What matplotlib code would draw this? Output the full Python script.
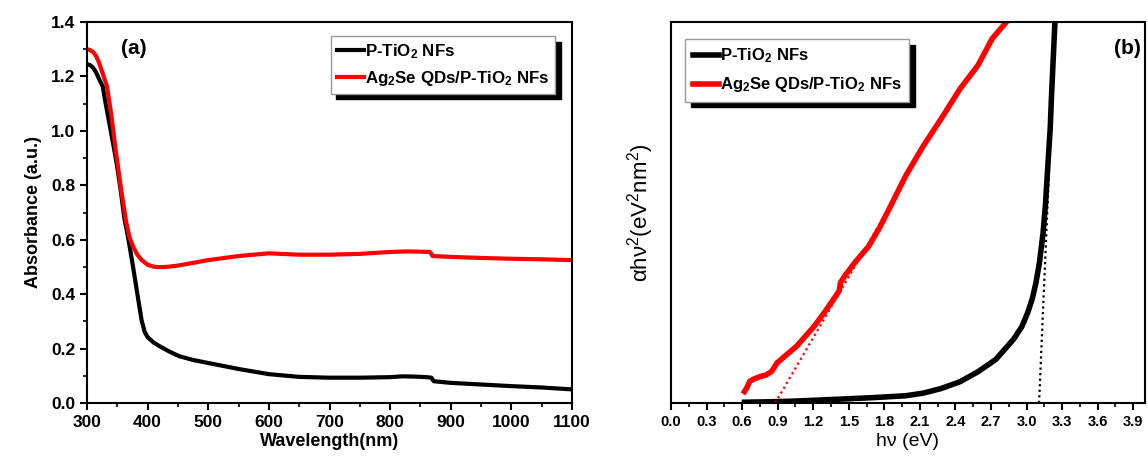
import matplotlib
matplotlib.use("Agg")
import matplotlib.pyplot as plt
from matplotlib.ticker import MultipleLocator, NullLocator, FormatStrFormatter

plt.rcParams['font.family'] = ['Liberation Sans', 'DejaVu Sans']
plt.rcParams['mathtext.fontset'] = 'custom'
plt.rcParams['mathtext.rm'] = 'Liberation Sans'
plt.rcParams['mathtext.it'] = 'Liberation Sans:italic'
plt.rcParams['mathtext.bf'] = 'Liberation Sans:bold'
plt.rcParams['mathtext.default'] = 'regular'

# ---- Panel (a) data: absorbance vs wavelength ----
wl_black = [300, 305, 310, 315, 320, 326, 330, 335, 340, 346, 350, 355, 362, 366, 370, 376, 381, 386, 390, 395, 400,
            410, 421, 435, 452, 475, 500, 550, 600, 650, 700, 750, 800, 820, 840, 860, 868, 872, 900, 950, 1000, 1050,
            1100]
ab_black = [1.245, 1.242, 1.232, 1.215, 1.19, 1.163, 1.11, 1.05, 0.99, 0.918, 0.865, 0.79, 0.673, 0.63, 0.58, 0.50,
            0.43, 0.36, 0.305, 0.262, 0.242, 0.222, 0.207, 0.190, 0.172, 0.158, 0.147, 0.125, 0.106, 0.096, 0.093,
            0.093, 0.095, 0.098, 0.097, 0.095, 0.093, 0.080, 0.074, 0.068, 0.062, 0.057, 0.050]
wl_red = [300, 305, 310, 315, 320, 326, 333, 340, 348, 356, 364, 370, 376, 383, 390, 400, 410, 421, 435, 450, 475, 500,
          550, 600, 650, 700, 750, 800, 830, 866, 870, 900, 950, 1000, 1050, 1100]
ab_red = [1.30, 1.297, 1.29, 1.275, 1.25, 1.21, 1.163, 1.06, 0.918, 0.79, 0.673, 0.61, 0.575, 0.545, 0.526, 0.508,
          0.501, 0.499, 0.501, 0.505, 0.515, 0.525, 0.540, 0.550, 0.545, 0.545, 0.548, 0.555, 0.557, 0.555, 0.540,
          0.537, 0.533, 0.530, 0.528, 0.525]

# ---- Panel (b) data: Tauc plot (arbitrary units, 0-100) ----
ev_black = [0.62, 0.8, 1.0, 1.2, 1.49, 1.7, 1.98, 2.13, 2.28, 2.44, 2.59, 2.74, 2.89, 2.96, 3.01, 3.05, 3.08, 3.11, 3.14,
            3.16, 3.18, 3.20, 3.21, 3.225, 3.24]
tauc_black = [0.2, 0.3, 0.45, 0.7, 1.1, 1.4, 1.9, 2.6, 3.8, 5.6, 8.2, 11.4, 16.7, 20.0, 23.7, 27.5, 31.6, 37.0, 44.7,
              52.0, 62.3, 72.0, 79.8, 90.0, 100.0]
ev_red = [0.62, 0.64, 0.665, 0.70, 0.757, 0.80, 0.85, 0.894, 0.95, 1.06, 1.21, 1.30, 1.40, 1.42, 1.43, 1.47, 1.55, 1.67,
          1.76, 1.855, 1.98, 2.13, 2.28, 2.44, 2.59, 2.71, 2.83]
tauc_red = [3.0, 4.0, 5.7, 6.3, 7.0, 7.3, 8.3, 10.5, 12.0, 14.9, 20.2, 24.0, 28.5, 29.5, 31.6, 33.5, 36.8, 41.2,
            46.0, 51.8, 59.6, 67.5, 74.6, 82.5, 88.6, 95.6, 100.0]
fit_black_x = [3.106, 3.244]
fit_black_y = [0.0, 100.0]
fit_red_x = [0.879, 1.916]
fit_red_y = [0.0, 55.3]

label_black = r'P-TiO$_\mathbf{2}$ NFs'
label_red = r'Ag$_\mathbf{2}$Se QDs/P-TiO$_\mathbf{2}$ NFs'

fig = plt.figure(figsize=(11.48, 4.66), dpi=100)
ax1 = fig.add_axes([87/1148, 63/466, 485/1148, 381/466])
ax2 = fig.add_axes([671/1148, 63/466, 474/1148, 381/466])

ax1.plot(wl_black, ab_black, color='black', lw=3, label=label_black, solid_joinstyle='round')
ax1.plot(wl_red, ab_red, color='#ff0000', lw=3, label=label_red, solid_joinstyle='round')
ax1.set_xlim(300, 1100)
ax1.set_ylim(0, 1.4)
ax1.xaxis.set_major_locator(MultipleLocator(100))
ax1.xaxis.set_minor_locator(MultipleLocator(50))
ax1.yaxis.set_major_locator(MultipleLocator(0.2))
ax1.yaxis.set_minor_locator(MultipleLocator(0.1))
ax1.set_xlabel('Wavelength(nm)', fontsize=13, fontweight='bold', labelpad=2)
ax1.set_ylabel('Absorbance (a.u.)', fontsize=13, fontweight='bold', labelpad=6)
ax1.text(0.07, 0.915, '(a)', transform=ax1.transAxes, fontsize=15, fontweight='bold')
ax1.tick_params(which='major', direction='out', length=5, width=1.5, labelsize=12.5, top=False, right=False)
ax1.tick_params(which='minor', direction='out', length=3, width=1.2, top=False, right=False)
for lab in ax1.get_xticklabels() + ax1.get_yticklabels():
    lab.set_fontweight('bold')
leg1 = ax1.legend(loc='upper right', bbox_to_anchor=(0.965, 0.962), borderaxespad=0, frameon=True, fancybox=False,
                  shadow={'color': 'black', 'alpha': 1, 'ox': 4, 'oy': -4}, handlelength=1.6, handletextpad=0.05,
                  borderpad=0.35, labelspacing=0.45, prop={'weight': 'bold', 'size': 12.2})
leg1.get_frame().set_edgecolor('#999999')
leg1.get_frame().set_linewidth(1.0)

ax2.plot(ev_black, tauc_black, color='black', lw=4, label=label_black, solid_joinstyle='round')
ax2.plot(ev_red, tauc_red, color='#ff0000', lw=4, label=label_red, solid_joinstyle='round')
ax2.plot(fit_black_x, fit_black_y, color='black', lw=1.6, ls=(0, (1, 1.5)))
ax2.plot(fit_red_x, fit_red_y, color='#ff0000', lw=1.6, ls=(0, (1, 1.5)))
ax2.set_xlim(0, 4.0)
ax2.set_ylim(0, 100)
ax2.xaxis.set_major_locator(MultipleLocator(0.3))
ax2.xaxis.set_minor_locator(MultipleLocator(0.15))
ax2.yaxis.set_major_locator(NullLocator())
ax2.yaxis.set_minor_locator(NullLocator())
ax2.xaxis.set_major_formatter(FormatStrFormatter('%.1f'))
ax2.tick_params(which='major', direction='out', length=5, width=1.5, labelsize=10.5, top=False, right=False)
ax2.tick_params(which='minor', direction='out', length=3, width=1.2, top=False, right=False)
for lab in ax2.get_xticklabels():
    lab.set_fontweight('bold')
ax2.set_xlabel('hν (eV)', fontsize=14, labelpad=3)
ax2.set_ylabel('αhν$^2$(eV$^2$nm$^2$)', fontsize=16, labelpad=11)
ax2.text(0.935, 0.915, '(b)', transform=ax2.transAxes, fontsize=15, fontweight='bold')
leg2 = ax2.legend(loc='upper left', bbox_to_anchor=(0.03, 0.955), borderaxespad=0, frameon=True, fancybox=False,
                  shadow={'color': 'black', 'alpha': 1, 'ox': 4, 'oy': -4}, handlelength=1.6, handletextpad=0.05,
                  borderpad=0.45, labelspacing=0.6, prop={'weight': 'bold', 'size': 12})
leg2.get_frame().set_edgecolor('#999999')
leg2.get_frame().set_linewidth(1.0)

for ax in (ax1, ax2):
    for s in ax.spines.values():
        s.set_linewidth(1.5)

fig.savefig('out.png', dpi=100)
